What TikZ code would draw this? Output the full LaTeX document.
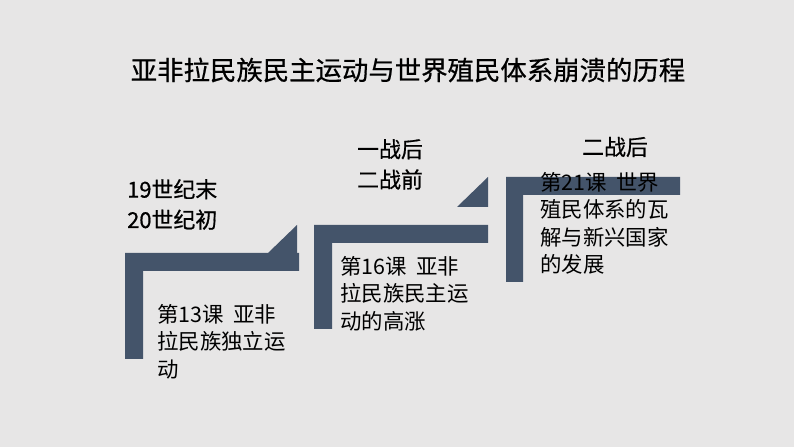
\documentclass[tikz,border=0pt]{standalone}
\usepackage{fontspec}
\setmainfont{Noto Sans CJK SC}
\newfontfamily\heavycjk{Noto Sans CJK SC}[FakeBold=0.6]
\usetikzlibrary{positioning}
\definecolor{stairblue}{HTML}{44546A}
\definecolor{slidegray}{HTML}{E7E6E6}

\begin{document}
\begin{tikzpicture}[x=1bp,y=-1bp,
  stair/.style={fill=stairblue},
  era/.style={inner sep=0,font=\heavycjk\fontsize{22}{30.5}\selectfont},
  lesson/.style={inner sep=0,anchor=north west,align=left,font=\fontsize{21.5}{27.5}\selectfont}]
  \fill[slidegray] (0,0) rectangle (794,447);
  % steps
  \fill[stair] (125,253) -- (299,253) -- (299,271) -- (143,271) -- (143,359) -- (125,359) -- cycle;
  \fill[stair] (268,253) -- (297,225) -- (297,253) -- cycle;
  \fill[stair] (314,225) -- (488,225) -- (488,243) -- (332,243) -- (332,329) -- (314,329) -- cycle;
  \fill[stair] (457,207) -- (488,177) -- (488,207) -- cycle;
  \fill[stair] (506,177) -- (680,177) -- (680,195) -- (523,195) -- (523,282) -- (506,282) -- cycle;
  % texts
  \node[inner sep=0,font=\heavycjk\fontsize{26.5}{30}\selectfont] (title) at (408,70) {亚非拉民族民主运动与世界殖民体系崩溃的历程};
  \node[era,anchor=north west,align=left] (era1) at (127,179) {19世纪末\\20世纪初};
  \node[era,anchor=north,align=center] (era2) at (390,139) {一战后\\二战前};
  \node[era] (era3) at (615,147) {二战后};
  \node[lesson] (lesson1) at (157,304) {第13课\hspace{0.45em}亚非\\拉民族独立运\\动};
  \node[lesson] (lesson2) at (340,256) {第16课\hspace{0.45em}亚非\\拉民族民主运\\动的高涨};
  \node[lesson] (lesson3) at (540,172) {第21课\hspace{0.45em}世界\\殖民体系的瓦\\解与新兴国家\\的发展};
\end{tikzpicture}
\end{document}
